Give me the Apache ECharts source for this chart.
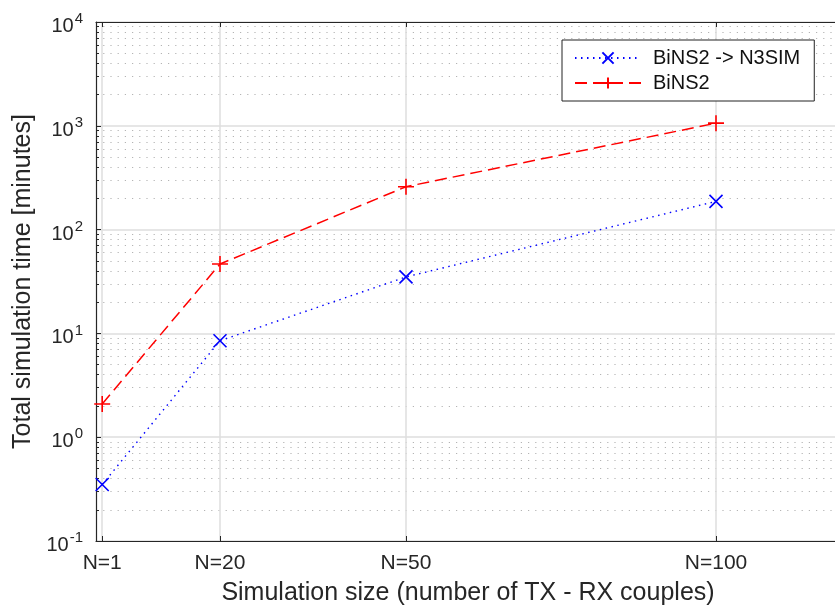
<!DOCTYPE html>
<html>
<head>
<meta charset="utf-8">
<script src="https://cdn.jsdelivr.net/npm/echarts@6/dist/echarts.min.js"></script>
<style>
  html, body { margin: 0; padding: 0; background: #fff; }
  #main { width: 835px; height: 607px; }
</style>
</head>
<body>
<div id="main"></div>
<script>
var sizes = [1, 20, 50, 100];
var xTicks = [1, 20, 50, 100];
var n3simTime = [0.35, 8.5, 35, 187];
var binsTime = [2.09, 46.6, 259, 1060];
var yMajor = [0.1, 1, 10, 100, 1000, 10000];
var yMinor = [0.2, 0.3, 0.4, 0.5, 0.6, 0.7, 0.8, 0.9,
              2, 3, 4, 5, 6, 7, 8, 9,
              20, 30, 40, 50, 60, 70, 80, 90,
              200, 300, 400, 500, 600, 700, 800, 900,
              2000, 3000, 4000, 5000, 6000, 7000, 8000, 9000];

function pairs(xs, ys) {
    return xs.map(function (x, i) { return [x, ys[i]]; });
}

var font = 'Liberation Sans, Arial, sans-serif';
var crossX = 'path://M0,0L10,10M10,0L0,10';
var plus = 'path://M5,0L5,10M0,5L10,5';

var myChart = echarts.init(document.getElementById('main'));

myChart.setOption({
    animation: false,
    grid: { left: 96, top: 22, right: -5, bottom: 66, outerBoundsMode: 'none', containLabel: false },
    legend: {
        left: 562, top: 40,
        orient: 'vertical',
        backgroundColor: '#fff',
        borderColor: '#222', borderWidth: 1,
        padding: [8, 14, 8, 12],
        itemWidth: 66, itemHeight: 14, itemGap: 5,
        textStyle: { fontFamily: font, fontSize: 20, color: '#111', padding: [0, 0, 0, 7] },
        data: ['BiNS2 -> N3SIM', 'BiNS2']
    },
    xAxis: [{
        type: 'value', min: 0, max: 120,
        name: 'Simulation size (number of TX - RX couples)',
        nameLocation: 'middle', nameGap: 40,
        nameTextStyle: { fontFamily: font, fontSize: 25, color: '#262626' },
        axisLine: { lineStyle: { color: '#262626', width: 1.2 } },
        axisTick: { inside: true, length: 5, customValues: xTicks, lineStyle: { color: '#262626' } },
        axisLabel: {
            customValues: xTicks, margin: 12,
            fontFamily: font, fontSize: 21, color: '#262626',
            formatter: function (v) { return 'N=' + v; }
        },
        splitLine: { show: true, lineStyle: { color: '#dedede', width: 1.5 } }
    }, {
        type: 'value', min: 0, max: 120, position: 'top',
        axisLine: { show: true, onZero: false, lineStyle: { color: '#262626', width: 1.2 } },
        axisTick: { inside: true, length: 5, customValues: xTicks, lineStyle: { color: '#262626' } },
        axisLabel: { show: false },
        splitLine: { show: false }
    }],
    yAxis: [{
        type: 'log', logBase: 10, min: 0.1, max: 10000,
        position: 'left',
        name: 'Total simulation time [minutes]',
        nameLocation: 'middle', nameGap: 57,
        nameTextStyle: { fontFamily: font, fontSize: 25, color: '#262626' },
        axisLine: { show: true, lineStyle: { color: '#262626', width: 1.2 } },
        axisTick: { inside: true, length: 5, customValues: yMajor, lineStyle: { color: '#262626' } },
        axisLabel: {
            customValues: yMajor, margin: 13,
            color: '#262626',
            formatter: function (v) {
                return '{base|10}{sup|' + Math.round(Math.log10(v)) + '}';
            },
            rich: {
                base: { fontFamily: font, fontSize: 20, color: '#262626', padding: [9, 0, 0, 0] },
                sup: { fontFamily: font, fontSize: 15, color: '#262626', padding: [0, 0, 6, 1] }
            }
        },
        splitLine: { show: true, lineStyle: { color: '#dedede', width: 1.5 } }
    }, {
        type: 'log', logBase: 10, min: 0.1, max: 10000,
        position: 'left', offset: 0,
        axisLine: { show: false },
        axisTick: { inside: true, length: 3, customValues: yMinor, lineStyle: { color: '#262626' } },
        axisLabel: { show: false },
        splitLine: { show: true, lineStyle: { color: '#b4b4b4', width: 1.2, type: [1.2, 6] } }
    }],
    series: [{
        name: 'BiNS2 -> N3SIM',
        type: 'line',
        data: pairs(sizes, n3simTime),
        symbol: crossX, symbolSize: 13,
        itemStyle: { color: '#0000ff', borderColor: '#0000ff', borderWidth: 1.6 },
        lineStyle: { color: '#0000ff', width: 1.4, type: [1.5, 4.5] },
        z: 5
    }, {
        name: 'BiNS2',
        type: 'line',
        data: pairs(sizes, binsTime),
        symbol: plus, symbolSize: 16,
        itemStyle: { color: '#ff0000', borderColor: '#ff0000', borderWidth: 1.6 },
        lineStyle: { color: '#ff0000', width: 1.5, type: [12, 6] },
        z: 5
    }]
});
</script>
</body>
</html>
